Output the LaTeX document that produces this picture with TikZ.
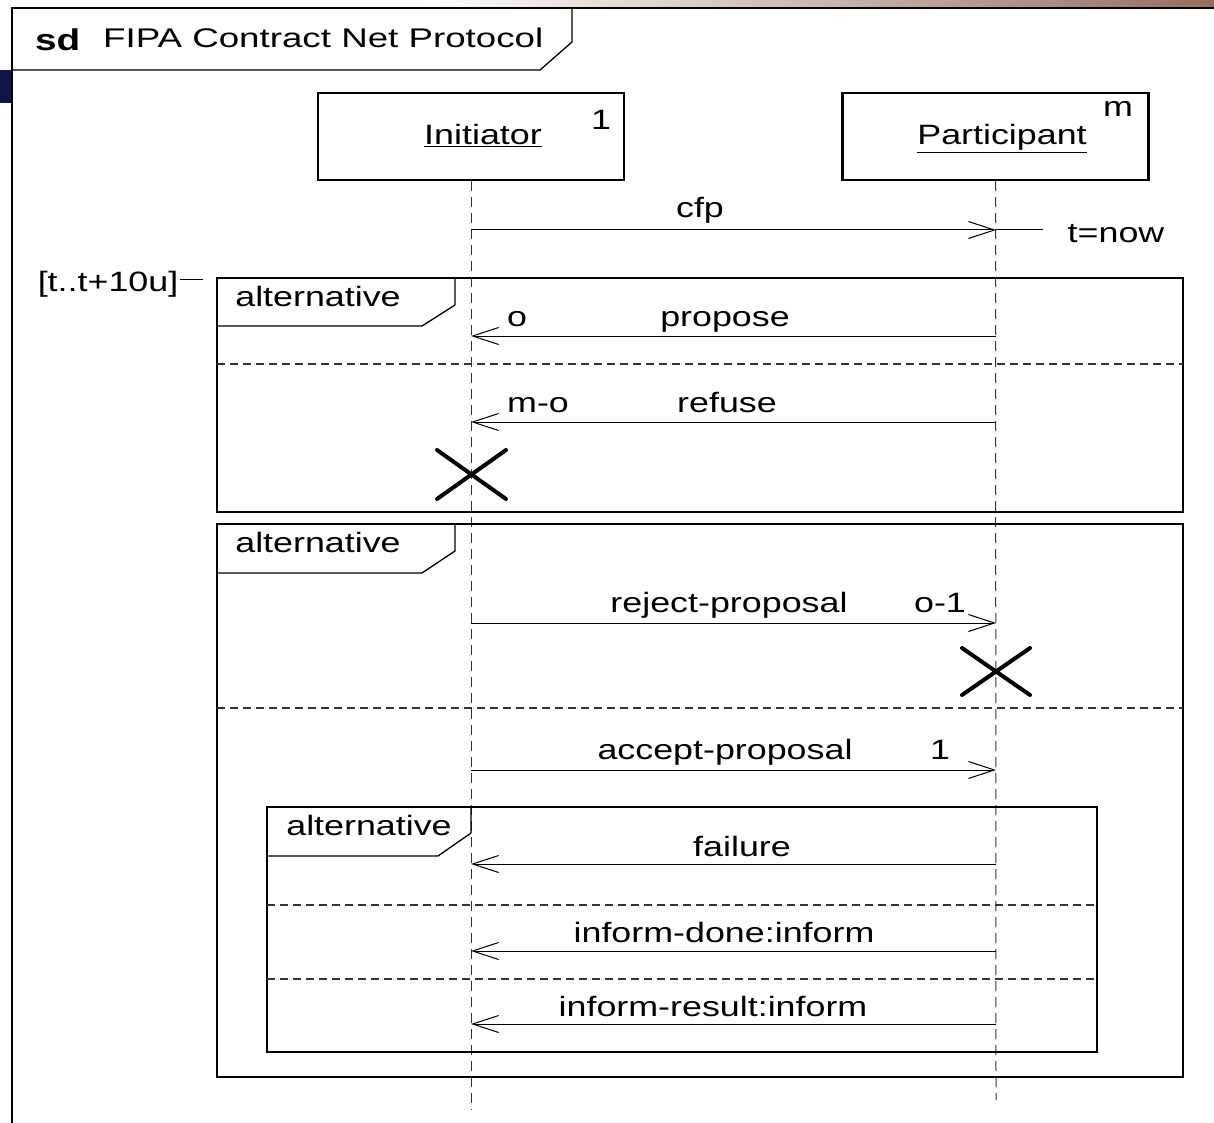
\documentclass[tikz,border=0pt]{standalone}
\usepackage{fontspec}
\usepackage{graphicx}
\setmainfont{Liberation Sans}
\usetikzlibrary{arrows.meta}
\newcommand\sx[1]{\scalebox{1.28}[1]{#1}}
\definecolor{navy}{RGB}{16,20,72}
\definecolor{slidebrown}{RGB}{150,110,95}
\begin{document}
\begin{tikzpicture}[x=1pt,y=-1pt,
  txt/.style={inner sep=0pt,anchor=base,font=\fontsize{28}{34}\selectfont},
  frameline/.style={line width=2.4pt},
  tabline/.style={line width=1.3pt},
  sep/.style={line width=1.2pt,dash pattern=on 8pt off 5pt,draw=black!80},
  life/.style={line width=1pt,dash pattern=on 10pt off 6pt,draw=black!80},
  msg/.style={line width=1pt,-{Straight Barb[length=26pt,width=17pt,line width=1pt]}},
  headbox/.style={draw,line width=2.4pt,minimum width=306pt,minimum height=87pt,inner sep=0pt},
  xmark/.style={line width=4pt,line cap=round}]
\useasboundingbox (0,0) rectangle (1214,1123);
% slide decorations
\shade[left color=white,right color=slidebrown] (420,0) rectangle (1214,7);
\fill[navy] (0,70) rectangle (12,103);
% outer frame
\draw[frameline] (1214,8) -- (12,8) -- (12,1123);
\draw[tabline] (572,8) -- (572,42) -- (540,70) -- (12,70);
\node[txt,anchor=base west,font=\fontsize{30}{34}\selectfont] (sdl) at (35,51) {\scalebox{1.29}[1]{\textbf{sd}}};
\node[txt,anchor=base west,font=\fontsize{27}{34}\selectfont] (title) at (103,48) {\scalebox{1.36}[1]{FIPA Contract Net Protocol}};
% lifeline heads
\node[headbox] (ini) at (471,136.5) {};
\node[headbox] (par) at (995.5,136.5) {};
\node[txt] (initxt) at (483,145) {\sx{\underline{Initiator}}};
\node[txt] (one) at (601,130) {\sx{1}};
\node[txt] (partxt) at (1002,145) {\sx{\underline{Participant}}};
\node[txt] (mm) at (1118,117) {\sx{m}};
% lifelines
\coordinate (iend) at (471,1110);
\coordinate (pend) at (996,1100);
\draw[life] (ini.south) -- (iend);
\draw[life] (par.south) -- (pend);
% cfp
\coordinate (icfp) at (471,230);
\coordinate (pcfp) at (996,230);
\coordinate (tnowend) at (1043,230);
\draw[msg] (icfp) -- (pcfp);
\draw[line width=1pt] (pcfp) -- (tnowend);
\node[txt] (cfp) at (700,218) {\sx{cfp}};
\node[txt] (tnow) at (1116,242) {\sx{t=now}};
% time constraint
\node[txt] (tc) at (108,291) {\sx{[t..t+10u]}};
\coordinate (tca) at (180,279);
\coordinate (tcb) at (203,279);
\draw[line width=1pt] (tca) -- (tcb);
% alt frame 1
\draw[frameline] (217,278) rectangle (1183,512);
\draw[tabline] (455,278) -- (455,305) -- (422,326) -- (217,326);
\node[txt] (alt1) at (318,306) {\sx{alternative}};
\draw[sep] (217,364) -- (1183,364);
\coordinate (ppro) at (996,336);
\coordinate (ipro) at (471,336);
\draw[msg] (ppro) -- (ipro);
\node[txt] (o) at (517,326) {\sx{o}};
\node[txt] (propose) at (725,326) {\sx{propose}};
\coordinate (pref) at (996,422);
\coordinate (iref) at (471,422);
\draw[msg] (pref) -- (iref);
\node[txt] (mo) at (538,412) {\sx{m-o}};
\node[txt] (refuse) at (727,412) {\sx{refuse}};
\draw[xmark] (437,450) -- (506,499) (437,499) -- (506,450);
% alt frame 2
\draw[frameline] (217,524) rectangle (1183,1077);
\draw[tabline] (455,524) -- (455,551) -- (422,573) -- (217,573);
\node[txt] (alt2) at (318,552) {\sx{alternative}};
\draw[sep] (217,708) -- (1183,708);
\coordinate (irej) at (471,623);
\coordinate (prej) at (996,623);
\draw[msg] (irej) -- (prej);
\node[txt] (reject) at (729,612) {\sx{reject-proposal}};
\node[txt] (om1) at (940,612) {\sx{o-1}};
\draw[xmark] (962,648) -- (1030,695) (962,695) -- (1030,648);
\coordinate (iacc) at (471,770);
\coordinate (pacc) at (996,770);
\draw[msg] (iacc) -- (pacc);
\node[txt] (accept) at (725,759) {\sx{accept-proposal}};
\node[txt] (onea) at (940,759) {\sx{1}};
% alt frame 3
\draw[frameline] (267,807) rectangle (1097,1052);
\draw[tabline] (471,807) -- (471,833) -- (438,856) -- (267,856);
\node[txt] (alt3) at (369,835) {\sx{alternative}};
\draw[sep] (267,905) -- (1097,905);
\draw[sep] (267,979) -- (1097,979);
\coordinate (pfail) at (996,864);
\coordinate (ifail) at (471,864);
\draw[msg] (pfail) -- (ifail);
\node[txt] (failure) at (742,856) {\sx{failure}};
\coordinate (pdone) at (996,951);
\coordinate (idone) at (471,951);
\draw[msg] (pdone) -- (idone);
\node[txt] (done) at (724,942) {\sx{inform-done:inform}};
\coordinate (pres) at (996,1024);
\coordinate (ires) at (471,1024);
\draw[msg] (pres) -- (ires);
\node[txt] (result) at (713,1016) {\sx{inform-result:inform}};
\end{tikzpicture}
\end{document}
